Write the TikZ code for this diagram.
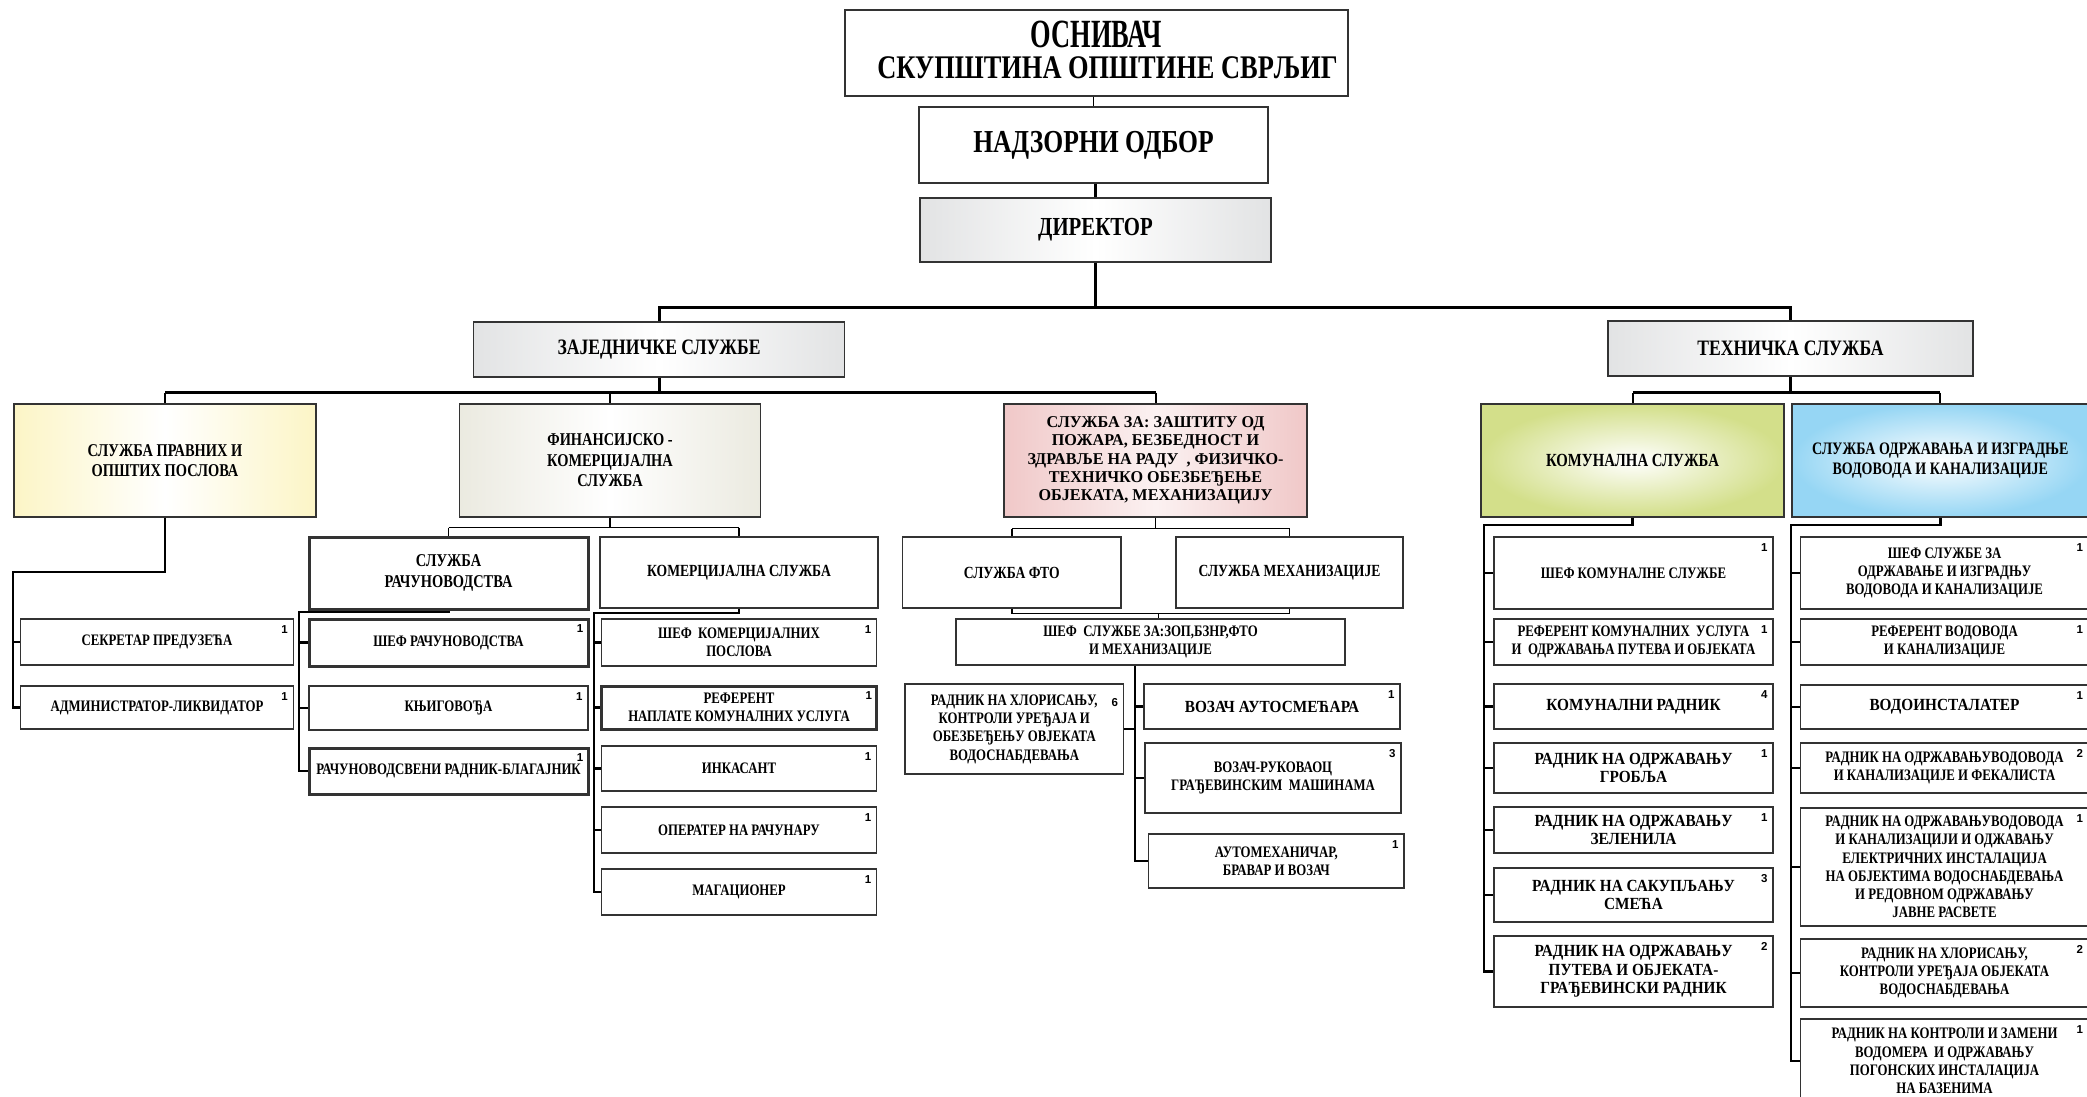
\documentclass[tikz,border=0pt]{standalone}
\usepackage{fontspec}
\setmainfont{Liberation Serif}[FakeStretch=0.8]
\newfontfamily\wideserif{Liberation Serif}[FakeStretch=0.98]
\newfontfamily\midserif{Liberation Serif}[FakeStretch=0.9]
\newfontfamily\narrowserif{Liberation Serif}[FakeStretch=0.66]
\newfontfamily\cntfont{Liberation Sans}
\definecolor{edge}{HTML}{333333}
\definecolor{greyfill}{HTML}{E2E3E4}
\definecolor{yellowfill}{HTML}{FCF5C6}
\definecolor{beigefill}{HTML}{EBEAE0}
\definecolor{rosefill}{HTML}{F0C8C8}
\definecolor{limefill}{HTML}{D3DF8A}
\definecolor{skyfill}{HTML}{96D6F4}

\begin{document}
\begin{tikzpicture}[x=1pt,y=-1pt]
\tikzstyle{post}=
[
	draw=edge, line width=1.3pt, align=center, inner sep=1pt,
	font=\bfseries\fontsize{16}{18.3}\selectfont
]
\tikzstyle{postmid}=[post, font=\midserif\bfseries\fontsize{17}{18.5}\selectfont]
\tikzstyle{heavy}=[post, line width=3pt]
\tikzstyle{head}=[post, font=\bfseries\fontsize{18}{20.5}\selectfont]
\tikzstyle{greyshade}=[left color=greyfill, right color=greyfill, middle color=white]
\tikzstyle{cnt}=[font=\cntfont\bfseries\fontsize{11.5}{12}\selectfont, inner sep=0pt,
	anchor=north east, xshift=-6pt, yshift=-7pt]
\tikzstyle{bus}=[line width=3pt]
\tikzstyle{drop}=[line width=2pt]
\tikzstyle{link}=[line width=1.5pt]
\tikzstyle{trunk}=[line width=2.5pt]

\useasboundingbox (0,0) rectangle (2087,1096);

\node[post, minimum width=503pt, minimum height=86pt, text depth=6pt, font=\bfseries\fontsize{33}{31}\selectfont]
	(osn) at (1096.5,53) {{\narrowserif\fontsize{40}{31}\selectfont ОСНИВАЧ}\\\hspace*{22pt}СКУПШТИНА ОПШТИНЕ СВРЉИГ};
\node[post, minimum width=349pt, minimum height=76pt, font=\bfseries\fontsize{32}{34}\selectfont]
	(nadz) at (1093.5,145) {НАДЗОРНИ ОДБОР};
\node[post, greyshade, minimum width=351pt, minimum height=64pt, font=\bfseries\fontsize{26}{28}\selectfont]
	(dir) at (1095.5,230) {ДИРЕКТОР};
\node[head, greyshade, minimum width=371.5pt, minimum height=55pt, font=\bfseries\fontsize{22}{24}\selectfont]
	(zaj) at (659,349.5) {ЗАЈЕДНИЧКЕ СЛУЖБЕ};
\node[head, greyshade, minimum width=365pt, minimum height=55pt, font=\bfseries\fontsize{22}{24}\selectfont]
	(tech) at (1790.5,348.5) {ТЕХНИЧКА СЛУЖБА};

\node[head, left color=yellowfill, right color=yellowfill, middle color=white,
	minimum width=302pt, minimum height=113pt] (pravni) at (165,460.5)
	{СЛУЖБА ПРАВНИХ И\\ОПШТИХ ПОСЛОВА};
\node[head, left color=beigefill, right color=beigefill, middle color=white,
	minimum width=301.5pt, minimum height=113pt] (fin) at (610,460.5)
	{ФИНАНСИЈСКО -\\КОМЕРЦИЈАЛНА\\СЛУЖБА};
\node[post, left color=rosefill, right color=rosefill, middle color=rosefill!25,
	font=\wideserif\bfseries\fontsize{16.5}{18.3}\selectfont,
	minimum width=303pt, minimum height=113pt] (szop) at (1155.5,460.5)
	{СЛУЖБА ЗА: ЗАШТИТУ ОД\\ПОЖАРА, БЕЗБЕДНОСТ И\\ЗДРАВЉЕ НА РАДУ \ , ФИЗИЧКО-\\ТЕХНИЧКО ОБЕЗБЕЂЕЊЕ\\ОБЈЕКАТА, МЕХАНИЗАЦИЈУ};
\node[head, inner color=white, outer color=limefill, font=\bfseries\fontsize{18.5}{20.5}\selectfont,
	minimum width=303pt, minimum height=113pt] (komun) at (1632.5,460.5)
	{КОМУНАЛНА СЛУЖБА};
\node[head, inner color=white, outer color=skyfill, font=\bfseries\fontsize{17.5}{20}\selectfont,
	minimum width=296.5pt, minimum height=113pt] (vodo) at (1940.25,460.5)
	{СЛУЖБА ОДРЖАВАЊА И ИЗГРАДЊЕ\\ВОДОВОДА И КАНАЛИЗАЦИЈЕ};

\node[post, minimum width=272.5pt, minimum height=46pt, label={[cnt]north east:1}]
	(sekr) at (157,642) {СЕКРЕТАР ПРЕДУЗЕЋА};
\node[post, minimum width=272.5pt, minimum height=43pt, label={[cnt]north east:1}]
	(adm) at (157,707.5) {АДМИНИСТРАТОР-ЛИКВИДАТОР};

\node[heavy, font=\bfseries\fontsize{18}{20.5}\selectfont, minimum width=279pt, minimum height=72pt]
	(rac) at (448.5,573) {СЛУЖБА\\РАЧУНОВОДСТВА};
\node[post, font=\bfseries\fontsize{17}{20}\selectfont, minimum width=278pt, minimum height=71pt]
	(kom) at (739,572.5) {КОМЕРЦИЈАЛНА СЛУЖБА};
\node[heavy, minimum width=279pt, minimum height=47pt, label={[cnt]north east:1}]
	(rshef) at (448.5,642.5) {ШЕФ РАЧУНОВОДСТВА};
\node[post, minimum width=279pt, minimum height=44pt, label={[cnt]north east:1}]
	(knjig) at (448.5,708) {КЊИГОВОЂА};
\node[heavy, minimum width=279pt, minimum height=46pt, label={[cnt]north east:1}]
	(blag) at (448.5,771) {РАЧУНОВОДСВЕНИ РАДНИК-БЛАГАЈНИК};
\node[post, minimum width=275.5pt, minimum height=47pt, label={[cnt]north east:1}]
	(kshef) at (739,642.5) {ШЕФ \ КОМЕРЦИЈАЛНИХ\\ПОСЛОВА};
\node[heavy, minimum width=275.5pt, minimum height=43pt, label={[cnt]north east:1}]
	(nap) at (739,707.5) {РЕФЕРЕНТ\\НАПЛАТЕ КОМУНАЛНИХ УСЛУГА};
\node[post, minimum width=275.5pt, minimum height=45pt, label={[cnt]north east:1}]
	(ink) at (739,768.5) {ИНКАСАНТ};
\node[post, minimum width=275.5pt, minimum height=46pt, label={[cnt]north east:1}]
	(oper) at (739,830) {ОПЕРАТЕР НА РАЧУНАРУ};
\node[post, minimum width=275.5pt, minimum height=46pt, label={[cnt]north east:1}]
	(mag) at (739,892) {МАГАЦИОНЕР};

\node[post, font=\bfseries\fontsize{17}{20}\selectfont, minimum width=218.5pt, minimum height=71pt]
	(fto) at (1011.75,572.5) {СЛУЖБА ФТО};
\node[post, font=\bfseries\fontsize{17}{20}\selectfont, minimum width=227pt, minimum height=71pt]
	(meh) at (1289.5,572.5) {СЛУЖБА МЕХАНИЗАЦИЈЕ};
\node[post, minimum width=389pt, minimum height=46pt]
	(shefz) at (1150.5,642) {ШЕФ \ СЛУЖБЕ ЗА:ЗОП,БЗНР,ФТО\\И МЕХАНИЗАЦИЈЕ};
\node[post, minimum width=218.6pt, minimum height=90pt, label={[cnt, yshift=-8pt]north east:6}]
	(hlor) at (1014.3,729) {РАДНИК НА ХЛОРИСАЊУ,\\КОНТРОЛИ УРЕЂАЈА И\\ОБЕЗБЕЂЕЊУ ОВЈЕКАТА\\ВОДОСНАБДЕВАЊА};
\node[postmid, minimum width=256pt, minimum height=45pt, label={[cnt]north east:1}]
	(voz) at (1272,706.5) {ВОЗАЧ АУТОСМЕЋАРА};
\node[post, minimum width=256pt, minimum height=70pt, label={[cnt]north east:3}]
	(ruk) at (1273,778) {ВОЗАЧ-РУКОВАОЦ\\ГРАЂЕВИНСКИМ \ МАШИНАМА};
\node[post, minimum width=255.4pt, minimum height=54pt, label={[cnt]north east:1}]
	(auto) at (1276.3,861) {АУТОМЕХАНИЧАР,\\БРАВАР И ВОЗАЧ};

\node[post, minimum width=279pt, minimum height=72pt, label={[cnt]north east:1}]
	(k1) at (1633.5,573) {ШЕФ КОМУНАЛНЕ СЛУЖБЕ};
\node[post, minimum width=279pt, minimum height=46pt, label={[cnt]north east:1}]
	(k2) at (1633.5,642) {РЕФЕРЕНТ КОМУНАЛНИХ \ УСЛУГА\\И \ ОДРЖАВАЊА ПУТЕВА И ОБЈЕКАТА};
\node[postmid, minimum width=279pt, minimum height=45pt, label={[cnt]north east:4}]
	(k3) at (1633.5,706.5) {КОМУНАЛНИ РАДНИК};
\node[postmid, minimum width=279pt, minimum height=50pt, label={[cnt]north east:1}]
	(k4) at (1633.5,768) {РАДНИК НА ОДРЖАВАЊУ\\ГРОБЉА};
\node[postmid, minimum width=279pt, minimum height=46pt, label={[cnt]north east:1}]
	(k5) at (1633.5,830) {РАДНИК НА ОДРЖАВАЊУ\\ЗЕЛЕНИЛА};
\node[postmid, minimum width=279pt, minimum height=54pt, label={[cnt]north east:3}]
	(k6) at (1633.5,895) {РАДНИК НА САКУПЉАЊУ\\СМЕЋА};
\node[postmid, minimum width=279pt, minimum height=71pt, label={[cnt]north east:2}]
	(k7) at (1633.5,971.5) {РАДНИК НА ОДРЖАВАЊУ\\ПУТЕВА И ОБЈЕКАТА-\\ГРАЂЕВИНСКИ РАДНИК};

\node[post, minimum width=288pt, minimum height=72pt, label={[cnt]north east:1}]
	(v1) at (1944.5,573) {ШЕФ СЛУЖБЕ ЗА\\ОДРЖАВАЊЕ И ИЗГРАДЊУ\\ВОДОВОДА И КАНАЛИЗАЦИЈЕ};
\node[post, minimum width=288pt, minimum height=46pt, label={[cnt]north east:1}]
	(v2) at (1944.5,642) {РЕФЕРЕНТ ВОДОВОДА\\И КАНАЛИЗАЦИЈЕ};
\node[postmid, minimum width=288pt, minimum height=44pt, label={[cnt]north east:1}]
	(v3) at (1944.5,707) {ВОДОИНСТАЛАТЕР};
\node[post, minimum width=288pt, minimum height=50pt, label={[cnt]north east:2}]
	(v4) at (1944.5,768) {РАДНИК НА ОДРЖАВАЊУВОДОВОДА\\И КАНАЛИЗАЦИЈЕ И ФЕКАЛИСТА};
\node[post, minimum width=288pt, minimum height=118pt, label={[cnt]north east:1}]
	(v5) at (1944.5,867) {РАДНИК НА ОДРЖАВАЊУВОДОВОДА\\И КАНАЛИЗАЦИЈИ И ОДЖАВАЊУ\\ЕЛЕКТРИЧНИХ ИНСТАЛАЦИЈА\\НА ОБЈЕКТИМА ВОДОСНАБДЕВАЊА\\И РЕДОВНОМ ОДРЖАВАЊУ\\ЈАВНЕ РАСВЕТЕ};
\node[post, minimum width=288pt, minimum height=68pt, label={[cnt]north east:2}]
	(v6) at (1944.5,973) {РАДНИК НА ХЛОРИСАЊУ,\\КОНТРОЛИ УРЕЂАЈА ОБЈЕКАТА\\ВОДОСНАБДЕВАЊА};
\node[post, minimum width=288pt, minimum height=84pt, label={[cnt]north east:1}]
	(v7) at (1944.5,1061) {РАДНИК НА КОНТРОЛИ И ЗАМЕНИ\\ВОДОМЕРА \ И ОДРЖАВАЊУ\\ПОГОНСКИХ ИНСТАЛАЦИЈА\\НА БАЗЕНИМА};

% upper levels
\draw[link] (osn.south -| nadz.north) -- (nadz.north);
\draw[bus] (nadz.south -| dir.north) -- (dir.north);
\path (dir.south) ++(0,45) coordinate (dbus);
\draw[bus] (dir.south) -- (dbus);
\draw[bus] (zaj.north) |- (dbus) -| (tech.north);

\path (zaj.south) ++(0,15) coordinate (zbus);
\draw[bus] (zaj.south) -- (zbus);
\draw[bus] (pravni.north |- zbus) -- (szop.north |- zbus);
\draw[drop] (pravni.north |- zbus) -- (pravni.north)
	(fin.north |- zbus) -- (fin.north)
	(szop.north |- zbus) -- (szop.north);

\path (tech.south) ++(0,16) coordinate (tbus);
\draw[bus] (tech.south) -- (tbus);
\draw[bus] (komun.north |- tbus) -- (vodo.north |- tbus);
\draw[drop] (komun.north |- tbus) -- (komun.north)
	(vodo.north |- tbus) -- (vodo.north);

% common services
\coordinate (pjoin) at (13,572);
\draw[trunk] (pravni.south) |- (pjoin) |- (adm.west);
\draw[trunk] (pjoin |- sekr.west) -- (sekr.west);

\path (fin.south) ++(0,10) coordinate (fbus);
\draw[link] (fin.south) -- (fbus);
\draw[link] (rac.north |- fbus) -- (kom.north |- fbus);
\draw[link] (rac.north |- fbus) -- (rac.north)
	(kom.north |- fbus) -- (kom.north);

\coordinate (rjoin) at (299,612);
\draw[trunk] (rac.south) |- (rjoin) |- (blag.west);
\draw[trunk] (rjoin |- rshef.west) -- (rshef.west)
	(rjoin |- knjig.west) -- (knjig.west);

\coordinate (kjoin) at (594,613);
\draw[trunk] (kom.south) |- (kjoin) |- (mag.west);
\draw[trunk] (kjoin |- kshef.west) -- (kshef.west)
	(kjoin |- nap.west) -- (nap.west)
	(kjoin |- ink.west) -- (ink.west)
	(kjoin |- oper.west) -- (oper.west);

\path (szop.south) ++(0,11) coordinate (sbus);
\draw[link] (szop.south) -- (sbus);
\draw[link] (fto.north |- sbus) -- (meh.north |- sbus);
\draw[link] (fto.north |- sbus) -- (fto.north)
	(meh.north |- sbus) -- (meh.north);
\path (shefz.north) ++(8,-5) coordinate (fmjoin);
\draw[link] (fto.south) |- (fmjoin) -| (meh.south);
\draw[link] (fmjoin) -- (fmjoin |- shefz.north);

\path (shefz.south) ++(-15.5,0) coordinate (mtop);
\draw[trunk] (mtop) |- (auto.west);
\draw[trunk] (mtop |- voz.west) -- (voz.west)
	(mtop |- ruk.west) -- (ruk.west)
	(mtop |- hlor.east) -- (hlor.east);

% technical services
\coordinate (cjoin) at (1484,525);
\draw[trunk] (komun.south) |- (cjoin) |- (k7.west);
\draw[trunk] (cjoin |- k1.west) -- (k1.west)
	(cjoin |- k2.west) -- (k2.west)
	(cjoin |- k3.west) -- (k3.west)
	(cjoin |- k4.west) -- (k4.west)
	(cjoin |- k5.west) -- (k5.west)
	(cjoin |- k6.west) -- (k6.west);

\coordinate (wjoin) at (1791,525);
\draw[trunk] (vodo.south) |- (wjoin) |- (v7.west);
\draw[trunk] (wjoin |- v1.west) -- (v1.west)
	(wjoin |- v2.west) -- (v2.west)
	(wjoin |- v3.west) -- (v3.west)
	(wjoin |- v4.west) -- (v4.west)
	(wjoin |- v5.west) -- (v5.west)
	(wjoin |- v6.west) -- (v6.west);
\end{tikzpicture}
\end{document}
